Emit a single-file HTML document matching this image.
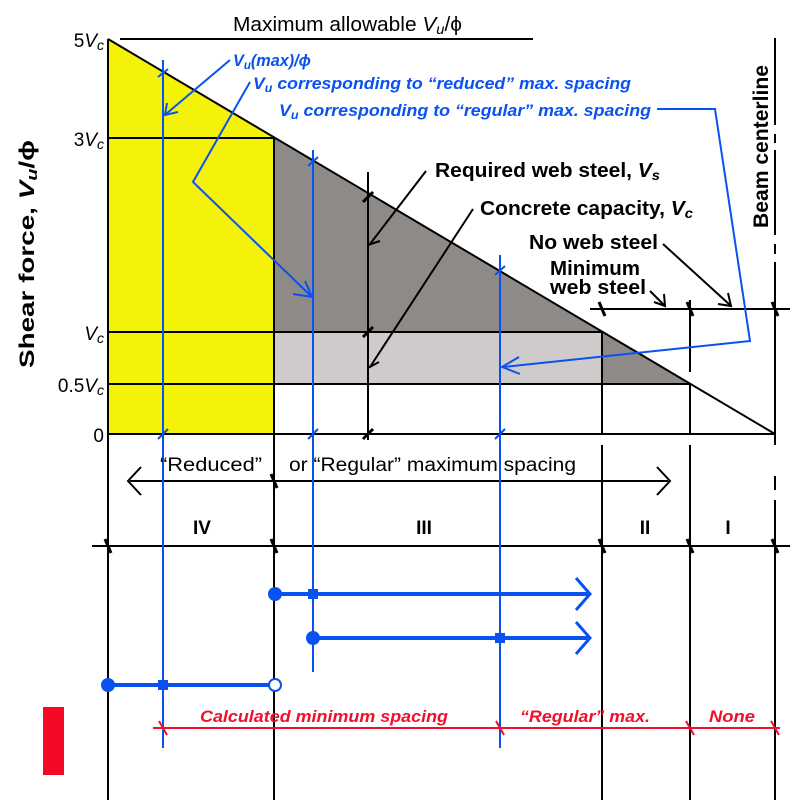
<!DOCTYPE html>
<html><head><meta charset="utf-8"><style>
html,body{margin:0;padding:0;background:#fff;width:800px;height:800px;overflow:hidden}
svg{display:block}
text{font-family:"Liberation Sans",Arial,sans-serif}
</style></head><body>
<svg width="800" height="800" viewBox="0 0 800 800" xmlns="http://www.w3.org/2000/svg">
<polygon points="108,39 274,137 274,434 108,434" fill="#f5f20a"/>
<polygon points="274,137 691,384 602,384 602,332 274,332" fill="#8e8a88"/>
<rect x="274" y="332" width="328" height="52" fill="#cfcbca"/>

<g stroke="#000" stroke-width="2" fill="none">
<line x1="108" y1="39" x2="775" y2="434"/>
<line x1="108" y1="39" x2="108" y2="800"/>
<line x1="120" y1="39" x2="533" y2="39"/>
<line x1="108" y1="138" x2="274" y2="138"/>
<line x1="108" y1="332" x2="602" y2="332"/>
<line x1="108" y1="384" x2="691" y2="384"/>
<line x1="108" y1="434" x2="775" y2="434"/>
<line x1="274" y1="138" x2="274" y2="800"/>
<line x1="368" y1="172" x2="368" y2="440"/>
<line x1="602" y1="332" x2="602" y2="434"/>
<line x1="602" y1="445" x2="602" y2="800"/>
<line x1="690" y1="300" x2="690" y2="372"/>
<line x1="690" y1="384" x2="690" y2="434"/>
<line x1="690" y1="445" x2="690" y2="800"/>
<line x1="775" y1="38" x2="775" y2="125"/>
<line x1="775" y1="134" x2="775" y2="143"/>
<line x1="775" y1="150" x2="775" y2="235"/>
<line x1="775" y1="244" x2="775" y2="254"/>
<line x1="775" y1="262" x2="775" y2="445"/>
<line x1="775" y1="476" x2="775" y2="490"/>
<line x1="775" y1="500" x2="775" y2="800"/>
<line x1="590" y1="309" x2="790" y2="309"/>
<line x1="92" y1="546" x2="790" y2="546"/>
<line x1="130" y1="481" x2="668" y2="481"/>
<polyline points="141,467 128,481 141,495"/>
<polyline points="657,467 670,481 657,495"/>
</g>
<g stroke="#000" stroke-width="3" fill="none">
<line x1="363" y1="202" x2="373" y2="192"/>
<line x1="363" y1="337" x2="373" y2="327"/>
<line x1="363" y1="439" x2="373" y2="429"/>
<line x1="599" y1="302" x2="605" y2="316"/>
<line x1="687" y1="302" x2="693" y2="316"/>
<line x1="772" y1="302" x2="778" y2="316"/>
<line x1="271" y1="474" x2="277" y2="488"/>
<line x1="105" y1="539" x2="111" y2="553"/>
<line x1="271" y1="539" x2="277" y2="553"/>
<line x1="599" y1="539" x2="605" y2="553"/>
<line x1="687" y1="539" x2="693" y2="553"/>
<line x1="772" y1="539" x2="778" y2="553"/>
</g>
<g stroke="#000" stroke-width="2" fill="none">
<line x1="426" y1="171" x2="370" y2="244"/>
<polyline points="368,232 368,245 380,241"/>
<line x1="473" y1="209" x2="370" y2="367"/>
<polyline points="368,355 368,368 379,362"/>
<line x1="663" y1="244" x2="730" y2="305"/>
<polyline points="728,293 731,306 718,304"/>
<line x1="650" y1="291" x2="664" y2="305"/>
<polyline points="664,294 665,306 654,302"/>
</g>

<g stroke="#0a52f0" stroke-width="2" fill="none">
<line x1="163" y1="60" x2="163" y2="748"/>
<line x1="313" y1="150" x2="313" y2="672"/>
<line x1="500" y1="255" x2="500" y2="748"/>
<line x1="158" y1="77" x2="168" y2="69"/>
<line x1="308" y1="166" x2="318" y2="157"/>
<line x1="495" y1="275" x2="505" y2="266"/>
<line x1="158" y1="439" x2="168" y2="429"/>
<line x1="308" y1="439" x2="318" y2="429"/>
<line x1="495" y1="439" x2="505" y2="429"/>
<line x1="230" y1="60" x2="166" y2="114"/>
<polyline points="167,103 165,115 178,112"/>
<polyline points="250,82 193,182 312,297"/>
<polyline points="293,294 312,297 305,281"/>
<polyline points="657,109 715,109 750,341 503,367"/>
<polyline points="519,357 502,367 520,374"/>
</g>
<g stroke="#0a52f0" stroke-width="4" fill="none">
<line x1="274" y1="594" x2="588" y2="594"/>
<polyline points="576,578 590,594 576,610" stroke-width="3"/>
<line x1="313" y1="638" x2="588" y2="638"/>
<polyline points="576,622 590,638 576,654" stroke-width="3"/>
<line x1="108" y1="685" x2="270" y2="685"/>
</g>
<g fill="#0a52f0">
<circle cx="275" cy="594" r="7"/>
<circle cx="313" cy="638" r="7"/>
<circle cx="108" cy="685" r="7"/>
<rect x="308" y="589" width="10" height="10"/>
<rect x="495" y="633" width="10" height="10"/>
<rect x="158" y="680" width="10" height="10"/>
</g>
<circle cx="275" cy="685" r="6" fill="#fff" stroke="#0a52f0" stroke-width="2"/>

<g stroke="#f0102a" stroke-width="2">
<line x1="153" y1="728" x2="780" y2="728"/>
<line x1="159" y1="721" x2="167" y2="735"/>
<line x1="496" y1="721" x2="504" y2="735"/>
<line x1="686" y1="721" x2="694" y2="735"/>
<line x1="771" y1="721" x2="779" y2="735"/>
</g>
<rect x="43" y="707" width="21" height="68" fill="#f50a25"/>

<g font-size="19" fill="#000" text-anchor="end">
<text x="104" y="47">5<tspan font-style="italic">V</tspan><tspan font-size="14" font-style="italic" dy="3">c</tspan></text>
<text x="104" y="146">3<tspan font-style="italic">V</tspan><tspan font-size="14" font-style="italic" dy="3">c</tspan></text>
<text x="104" y="340"><tspan font-style="italic">V</tspan><tspan font-size="14" font-style="italic" dy="3">c</tspan></text>
<text x="104" y="392">0.5<tspan font-style="italic">V</tspan><tspan font-size="14" font-style="italic" dy="3">c</tspan></text>
<text x="104" y="442">0</text>
</g>
<text x="233" y="31" font-size="20" textLength="229" lengthAdjust="spacingAndGlyphs">Maximum allowable <tspan font-style="italic">V</tspan><tspan font-size="14" font-style="italic" dy="3">u</tspan><tspan dy="-3">/ϕ</tspan></text>
<text transform="translate(34,368) rotate(-90)" font-size="21" font-weight="bold" textLength="228" lengthAdjust="spacingAndGlyphs">Shear force, <tspan font-style="italic">V</tspan><tspan font-size="15" font-style="italic" dy="3">u</tspan><tspan dy="-3">/ϕ</tspan></text>
<text transform="translate(768,228) rotate(-90)" font-size="21" font-weight="bold" textLength="163" lengthAdjust="spacingAndGlyphs">Beam centerline</text>

<g font-size="20" font-weight="bold" fill="#000">
<text x="435" y="177" textLength="225" lengthAdjust="spacingAndGlyphs">Required web steel, <tspan font-style="italic">V</tspan><tspan font-size="14" font-style="italic" dy="3">s</tspan></text>
<text x="480" y="215" textLength="213" lengthAdjust="spacingAndGlyphs">Concrete capacity, <tspan font-style="italic">V</tspan><tspan font-size="14" font-style="italic" dy="3">c</tspan></text>
<text x="529" y="249" textLength="129" lengthAdjust="spacingAndGlyphs">No web steel</text>
<text x="550" y="275" textLength="90" lengthAdjust="spacingAndGlyphs">Minimum</text>
<text x="550" y="294" textLength="96" lengthAdjust="spacingAndGlyphs">web steel</text>
</g>

<g font-size="17" font-weight="bold" font-style="italic" fill="#0a52f0">
<text x="233" y="66" textLength="78" lengthAdjust="spacingAndGlyphs">V<tspan font-size="12" dy="3">u</tspan><tspan dy="-3">(max)/ϕ</tspan></text>
<text x="253" y="89" textLength="378" lengthAdjust="spacingAndGlyphs">V<tspan font-size="12" dy="3">u</tspan><tspan dy="-3"> corresponding to “reduced” max. spacing</tspan></text>
<text x="279" y="116" textLength="372" lengthAdjust="spacingAndGlyphs">V<tspan font-size="12" dy="3">u</tspan><tspan dy="-3"> corresponding to “regular” max. spacing</tspan></text>
</g>

<g font-size="19" fill="#000">
<text x="160" y="471" textLength="102" lengthAdjust="spacingAndGlyphs">“Reduced”</text>
<text x="289" y="471" textLength="287" lengthAdjust="spacingAndGlyphs">or “Regular” maximum spacing</text>
</g>
<g font-size="19" font-weight="bold" fill="#000" text-anchor="middle">
<text x="202" y="534">IV</text>
<text x="424" y="534">III</text>
<text x="645" y="534">II</text>
<text x="728" y="534">I</text>
</g>
<g font-size="17" font-weight="bold" font-style="italic" fill="#f0102a">
<text x="200" y="722" textLength="248" lengthAdjust="spacingAndGlyphs">Calculated minimum spacing</text>
<text x="520" y="722" textLength="130" lengthAdjust="spacingAndGlyphs">“Regular” max.</text>
<text x="709" y="722" textLength="46" lengthAdjust="spacingAndGlyphs">None</text>
</g>
</svg>
</body></html>
